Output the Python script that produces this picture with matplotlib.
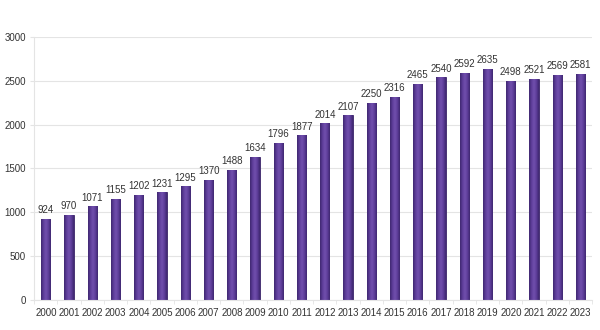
import matplotlib
matplotlib.use("Agg")
import matplotlib.pyplot as plt
import numpy as np
from matplotlib.colors import LinearSegmentedColormap

plt.rcParams["font.family"] = ["Liberation Sans", "DejaVu Sans"]
plt.rcParams["font.size"] = 7.0

years = [str(y) for y in range(2000, 2024)]
values = [924, 970, 1071, 1155, 1202, 1231, 1295, 1370, 1488, 1634, 1796, 1877,
          2014, 2107, 2250, 2316, 2465, 2540, 2592, 2635, 2498, 2521, 2569, 2581]
yticks = [0, 500, 1000, 1500, 2000, 2500, 3000]

grid_col = "#e4e4e4"
text_col = "#333333"

fig = plt.figure(figsize=(6.0, 3.3), dpi=100)
ax = fig.add_axes([0.057, 0.091, 0.930, 0.797])

x = np.arange(len(years))
width = 0.4
bars = ax.bar(x, values, width=width, color="#5a3a94", edgecolor="#3a2468",
              linewidth=0.6, zorder=2)

# horizontal shading on each bar for the cylinder look
cmap = LinearSegmentedColormap.from_list(
    "bar", ["#3d266d", "#5e3d9b", "#7150ad", "#5e3d9b", "#3d266d"])
grad = np.linspace(0, 1, 64).reshape(1, -1)
for b in bars:
    x0, y0 = b.get_x(), b.get_y()
    w, h = b.get_width(), b.get_height()
    im = ax.imshow(grad, cmap=cmap, aspect="auto", extent=(x0, x0 + w, y0, y0 + h),
                   zorder=2.5, interpolation="bicubic")
    im.set_clip_path(b)

for xi, v in zip(x, values):
    ax.text(xi, v + 40, str(v), ha="center", va="bottom", color=text_col, fontsize=7)

ax.set_xlim(-0.5, len(years) - 0.5)
ax.set_ylim(0, 3000)
ax.set_yticks(yticks)
ax.set_xticks(x)
ax.set_xticklabels(years)
ax.set_xticks(np.arange(-0.5, len(years)), minor=True)
ax.tick_params(axis="x", which="major", length=0, pad=6, colors=text_col)
ax.tick_params(axis="x", which="minor", length=3, color=grid_col)
ax.tick_params(axis="y", length=3, color=grid_col, colors=text_col, pad=3)
for lab in ax.get_yticklabels():
    lab.set_color(text_col)

ax.yaxis.grid(True, color=grid_col, linewidth=0.8, zorder=0)
ax.set_axisbelow(True)
for s in ["top", "right"]:
    ax.spines[s].set_visible(False)
ax.spines["left"].set_color(grid_col)
ax.spines["bottom"].set_color(grid_col)

fig.savefig("out.png", dpi=100)
